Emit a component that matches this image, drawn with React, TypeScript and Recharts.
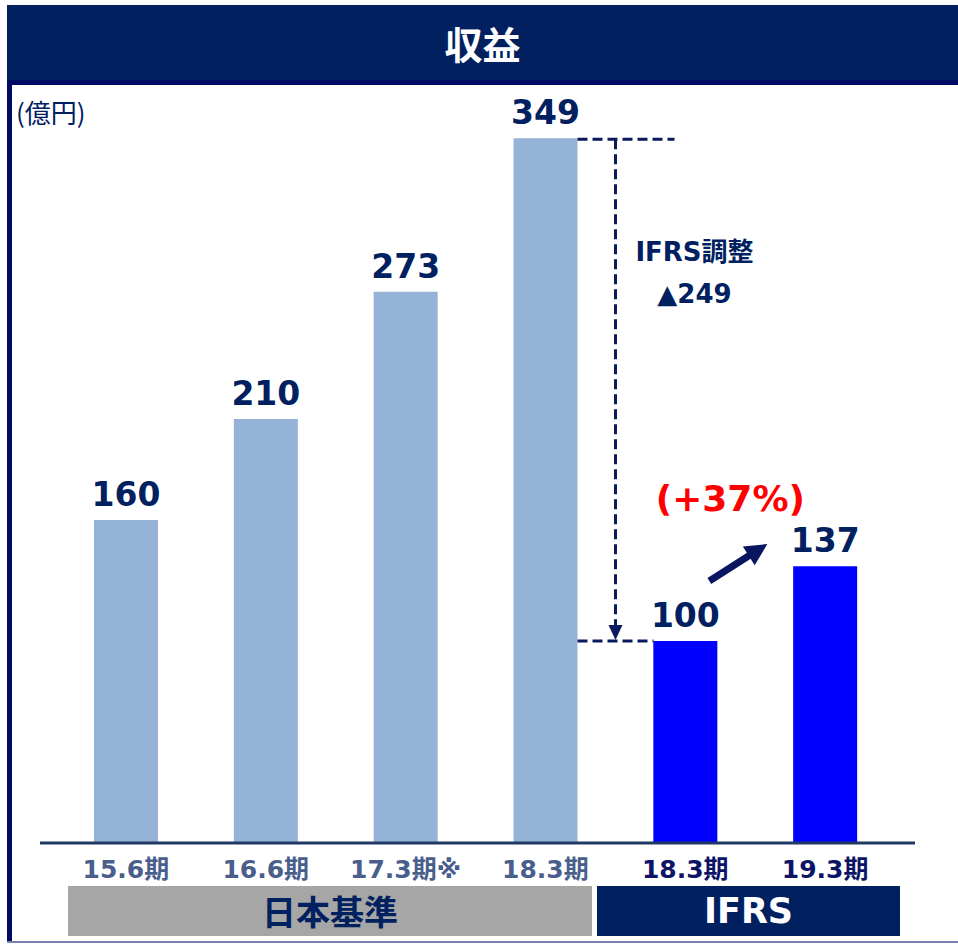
import React from 'react';
import { BarChart, Bar, XAxis, YAxis, Cell, LabelList } from 'recharts';

const periods = ['15.6期', '16.6期', '17.3期※', '18.3期', '18.3期', '19.3期'];
const standards = ['日本基準', '日本基準', '日本基準', '日本基準', 'IFRS', 'IFRS'];
const revenue = [160, 210, 273, 349, 100, 137];
const ifrsAdjustment = 249;
const growthLabel = '(+37%)';

const data = periods.map((period, i) => ({
  id: i,
  period,
  standard: standards[i],
  revenue: revenue[i],
}));

const NAVY = '#002060';
const DARK = '#000a63';
const latin = '"DejaVu Sans", "Noto Sans CJK JP", sans-serif';
const cjk = '"Noto Sans CJK JP", "DejaVu Sans", sans-serif';

const barColor = (s: string) => (s === 'IFRS' ? '#0000ff' : '#95b3d7');
const tickColor = (s: string) => (s === 'IFRS' ? '#0d1466' : '#4a5e8c');

const renderTick = (props: any) => {
  const { x, y, payload } = props;
  const i = Number(payload.value);
  return (
    <text
      x={x}
      y={y + 35}
      textAnchor="middle"
      fontSize={25}
      fontWeight="bold"
      fontFamily={latin}
      fill={tickColor(standards[i])}
    >
      {periods[i]}
    </text>
  );
};

const dash = { stroke: '#0a1a5c', strokeWidth: 3, strokeDasharray: '10 5' };

const renderAnnotation = (props: any) => {
  const vb = props.viewBox ?? props;
  const x = Number(vb.x);
  const y = Number(vb.y);
  const width = Number(vb.width);
  const height = Number(vb.height);
  const index = props.index;
  const value = Number(props.value);
  const right = x + width;

  if (index === 3) {
    // IFRS adjustment bracket
    const base = y + height;
    const pxPerUnit = height / value;
    const yLow = base - (value - ifrsAdjustment) * pxPerUnit;
    const vx = right + 38;
    return (
      <g>
        <line x1={right} x2={right + 97} y1={y + 1} y2={y + 1} {...dash} />
        <line x1={vx} x2={vx} y1={y + 1} y2={yLow - 14} {...dash} />
        <polygon points={`${vx - 7},${yLow - 16} ${vx + 7},${yLow - 16} ${vx},${yLow - 1}`} fill="#0a1a5c" />
        <line x1={right} x2={right + 76} y1={yLow} y2={yLow} {...dash} />
        <text x={vx + 79} y={y + 123} textAnchor="middle" fontSize={26} fontWeight="bold" fontFamily={latin} fill={NAVY}>
          IFRS調整
        </text>
        <text x={vx + 79} y={y + 165} textAnchor="middle" fontSize={26} fontWeight="bold" fontFamily={latin} fill={NAVY}>
          ▲{ifrsAdjustment}
        </text>
      </g>
    );
  }

  if (index === 4) {
    const sx = right - 8;
    const sy = y - 60;
    const ex = right + 50;
    const ey = y - 97;
    const dx = ex - sx;
    const dy = ey - sy;
    const len = Math.sqrt(dx * dx + dy * dy);
    const ux = dx / len;
    const uy = dy / len;
    const nx = -uy;
    const ny = ux;
    const hx = ex - ux * 22;
    const hy = ey - uy * 22;
    return (
      <g>
        <line x1={sx} y1={sy} x2={hx + ux * 2} y2={hy + uy * 2} stroke="#0a1560" strokeWidth={7} />
        <polygon
          points={`${ex},${ey} ${hx + nx * 11},${hy + ny * 11} ${hx - nx * 11},${hy - ny * 11}`}
          fill="#0a1560"
        />
        <text x={right + 13} y={y - 130} textAnchor="middle" fontSize={36} fontWeight="bold" fontFamily={latin} fill="#ff0000">
          {growthLabel}
        </text>
      </g>
    );
  }
  return null;
};

const App = () => {
  return (
    <div style={{ position: 'absolute', left: 0, top: 0, width: 958, height: 944, background: '#fff', overflow: 'hidden' }}>
      {/* title bar */}
      <div
        style={{
          position: 'absolute',
          left: 7,
          top: 5,
          width: 951,
          height: 75,
          background: NAVY,
          color: '#fff',
          fontFamily: cjk,
          fontWeight: 'bold',
          fontSize: 38,
          lineHeight: '75px',
          textAlign: 'center',
        }}
      >
        収益
      </div>
      <div style={{ position: 'absolute', left: 7, top: 80, width: 951, height: 5, background: DARK }} />
      <div style={{ position: 'absolute', left: 7, top: 80, width: 5, height: 861, background: DARK }} />
      <div style={{ position: 'absolute', left: 7, top: 941, width: 951, height: 2, background: '#7683b0' }} />
      <div
        style={{
          position: 'absolute',
          left: 16,
          top: 94,
          fontFamily: cjk,
          fontSize: 26,
          lineHeight: '36px',
          color: NAVY,
        }}
      >
        (億円)
      </div>

      <div style={{ position: 'absolute', left: 0, top: 0 }}>
        <BarChart width={958} height={944} data={data} margin={{ top: 116, right: 43, bottom: 41, left: 40 }}>
          <XAxis
            dataKey="id"
            height={60}
            interval={0}
            tickLine={false}
            tickSize={0}
            tickMargin={0}
            axisLine={{ stroke: '#1f3864', strokeWidth: 3 }}
            padding={{ left: 16, right: 20 }}
            tick={renderTick}
          />
          <YAxis hide domain={[0, 360]} />
          <Bar dataKey="revenue" barSize={64} isAnimationActive={false}>
            {data.map((d) => (
              <Cell key={d.id} fill={barColor(d.standard)} />
            ))}
            <LabelList
              dataKey="revenue"
              position="top"
              offset={14}
              fill={NAVY}
              style={{ fontSize: 33, fontWeight: 'bold', fontFamily: latin }}
            />
            <LabelList dataKey="revenue" content={renderAnnotation} />
          </Bar>
        </BarChart>
      </div>

      {/* accounting standard bands */}
      <div
        style={{
          position: 'absolute',
          left: 68,
          top: 886,
          width: 524,
          height: 50,
          background: '#a6a6a6',
          color: NAVY,
          fontFamily: cjk,
          fontWeight: 'bold',
          fontSize: 34,
          lineHeight: '50px',
          textAlign: 'center',
        }}
      >
        {standards[0]}
      </div>
      <div
        style={{
          position: 'absolute',
          left: 597,
          top: 886,
          width: 303,
          height: 50,
          background: NAVY,
          color: '#fff',
          fontFamily: latin,
          fontWeight: 'bold',
          fontSize: 35,
          lineHeight: '50px',
          textAlign: 'center',
        }}
      >
        {standards[4]}
      </div>
    </div>
  );
};

export default App;
